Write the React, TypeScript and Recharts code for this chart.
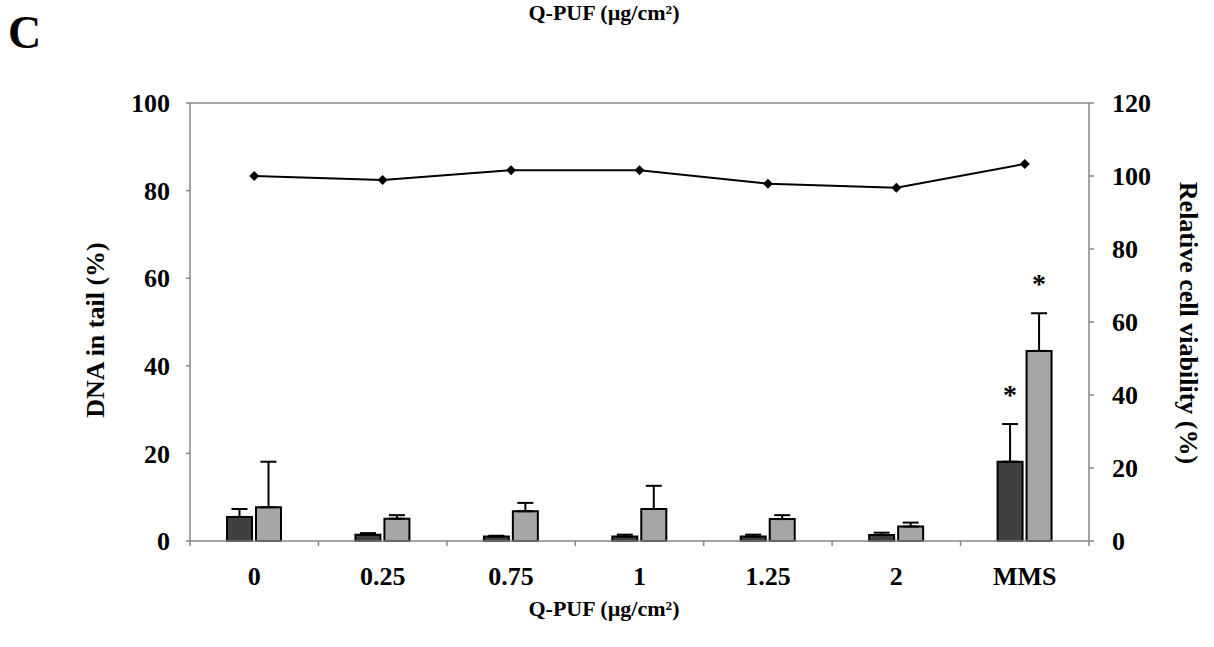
import { ComposedChart, Bar, Line, XAxis, YAxis, ErrorBar, ReferenceLine, LabelList } from 'recharts';

const doses = ['0', '0.25', '0.75', '1', '1.25', '2', 'MMS'];
const dnaDark = [5.5, 1.45, 1.0, 1.0, 1.0, 1.35, 18.1];
const dnaDarkErr = [1.8, 0.35, 0.2, 0.45, 0.45, 0.55, 8.6];
const dnaLight = [7.7, 5.1, 6.8, 7.3, 5.0, 3.3, 43.4];
const dnaLightErr = [10.4, 0.8, 1.9, 5.3, 0.9, 0.9, 8.6];
const viability = [100, 98.9, 101.6, 101.6, 97.9, 96.8, 103.3];
const significant = [false, false, false, false, false, false, true];
const leftTicks = [0, 20, 40, 60, 80, 100];
const rightTicks = [0, 20, 40, 60, 80, 100, 120];
// category boundaries for the x-axis tick marks
const edgeTicks = [0, 1, 2, 3, 4, 5, 6, 7];

const data = doses.map((dose, i) => ({
  dose,
  slot: i + 0.5,
  dark: dnaDark[i],
  darkErr: [0, dnaDarkErr[i]],
  light: dnaLight[i],
  lightErr: [0, dnaLightErr[i]],
  viability: viability[i],
}));

const FONT = '"Liberation Serif", "Times New Roman", serif';
const AXIS = '#878787';
const tickStyle = { fill: '#000', fontSize: 26, fontWeight: 'bold', fontFamily: FONT };

const Diamond = (props: any) => {
  const { cx, cy } = props;
  if (cx == null || cy == null) return null;
  const r = 5;
  return <polygon points={`${cx},${cy - r} ${cx + r},${cy} ${cx},${cy + r} ${cx - r},${cy}`} fill="#000" />;
};

// asterisk sits above the error bar top, scaled by the bar's own px/unit
const starLabel = (errs: number[]) => (props: any) => {
  const { x, y, width, height, value, index } = props;
  if (!significant[index] || !value) return null;
  const top = y - (errs[index] * height) / value;
  return (
    <text x={x + width / 2} y={top - 20} textAnchor="middle" fontSize={28} fontWeight="bold" fontFamily={FONT} fill="#000">
      *
    </text>
  );
};

export default function App() {
  return (
    <div style={{ position: 'absolute', left: 0, top: 0, width: 1214, height: 647, background: '#fff' }}>
      <ComposedChart width={1214} height={647} data={data} margin={{ top: 103, right: 0, bottom: 0, left: 0 }}>
        <XAxis
          xAxisId="a_edges"
          type="number"
          dataKey="slot"
          domain={[0, 7]}
          ticks={edgeTicks}
          tick={() => <g />}
          axisLine={{ stroke: AXIS, strokeWidth: 1.5 }}
          tickLine={{ stroke: AXIS, strokeWidth: 1.5 }}
          tickSize={5}
          height={1}
        />
        <XAxis
          xAxisId="b_cat"
          dataKey="dose"
          tick={tickStyle}
          tickLine={false}
          tickSize={0}
          tickMargin={25}
          axisLine={false}
          height={105}
        />
        <YAxis
          yAxisId="left"
          domain={[0, 100]}
          ticks={leftTicks}
          width={190}
          tick={tickStyle}
          tickSize={4}
          tickMargin={16}
          axisLine={{ stroke: AXIS, strokeWidth: 1.5 }}
          tickLine={{ stroke: AXIS, strokeWidth: 1.5 }}
        />
        <YAxis
          yAxisId="right"
          orientation="right"
          domain={[0, 120]}
          ticks={rightTicks}
          width={125}
          tick={{ ...tickStyle, textAnchor: 'start' }}
          tickSize={5}
          tickMargin={18}
          axisLine={{ stroke: AXIS, strokeWidth: 1.5 }}
          tickLine={{ stroke: AXIS, strokeWidth: 1.5 }}
        />
        <ReferenceLine yAxisId="left" xAxisId="b_cat" y={100} stroke={AXIS} strokeWidth={1.5} />
        {/* invisible series so the boundary axis gets a domain */}
        <Line xAxisId="a_edges" yAxisId="left" dataKey="dark" stroke="none" dot={false} activeDot={false} isAnimationActive={false} />
        <Bar xAxisId="b_cat" yAxisId="left" dataKey="dark" fill="#404040" stroke="#000" strokeWidth={2} barSize={25} isAnimationActive={false}>
          <ErrorBar dataKey="darkErr" direction="y" width={8} stroke="#000" strokeWidth={2} />
          <LabelList dataKey="dark" content={starLabel(dnaDarkErr)} />
        </Bar>
        <Bar xAxisId="b_cat" yAxisId="left" dataKey="light" fill="#a6a6a6" stroke="#000" strokeWidth={2} barSize={25} isAnimationActive={false}>
          <ErrorBar dataKey="lightErr" direction="y" width={8} stroke="#000" strokeWidth={2} />
          <LabelList dataKey="light" content={starLabel(dnaLightErr)} />
        </Bar>
        <Line
          xAxisId="b_cat"
          yAxisId="right"
          dataKey="viability"
          stroke="#000"
          strokeWidth={2}
          dot={<Diamond />}
          activeDot={false}
          isAnimationActive={false}
        />
      </ComposedChart>
      <svg width={1214} height={647} style={{ position: 'absolute', left: 0, top: 0, pointerEvents: 'none' }}>
        <g fontFamily={FONT} fontWeight="bold" fill="#000">
          <text x={8} y={48} fontSize={46}>C</text>
          <text x={604} y={20} fontSize={22} textAnchor="middle">Q-PUF (µg/cm²)</text>
          <text x={604} y={616} fontSize={22} textAnchor="middle">Q-PUF (µg/cm²)</text>
          <text x={95} y={330} fontSize={26} textAnchor="middle" dominantBaseline="central" transform="rotate(-90 95 330)">
            DNA in tail (%)
          </text>
          <text x={1188} y={323} fontSize={26} textAnchor="middle" dominantBaseline="central" transform="rotate(90 1188 323)">
            Relative cell viability (%)
          </text>
        </g>
      </svg>
    </div>
  );
}
